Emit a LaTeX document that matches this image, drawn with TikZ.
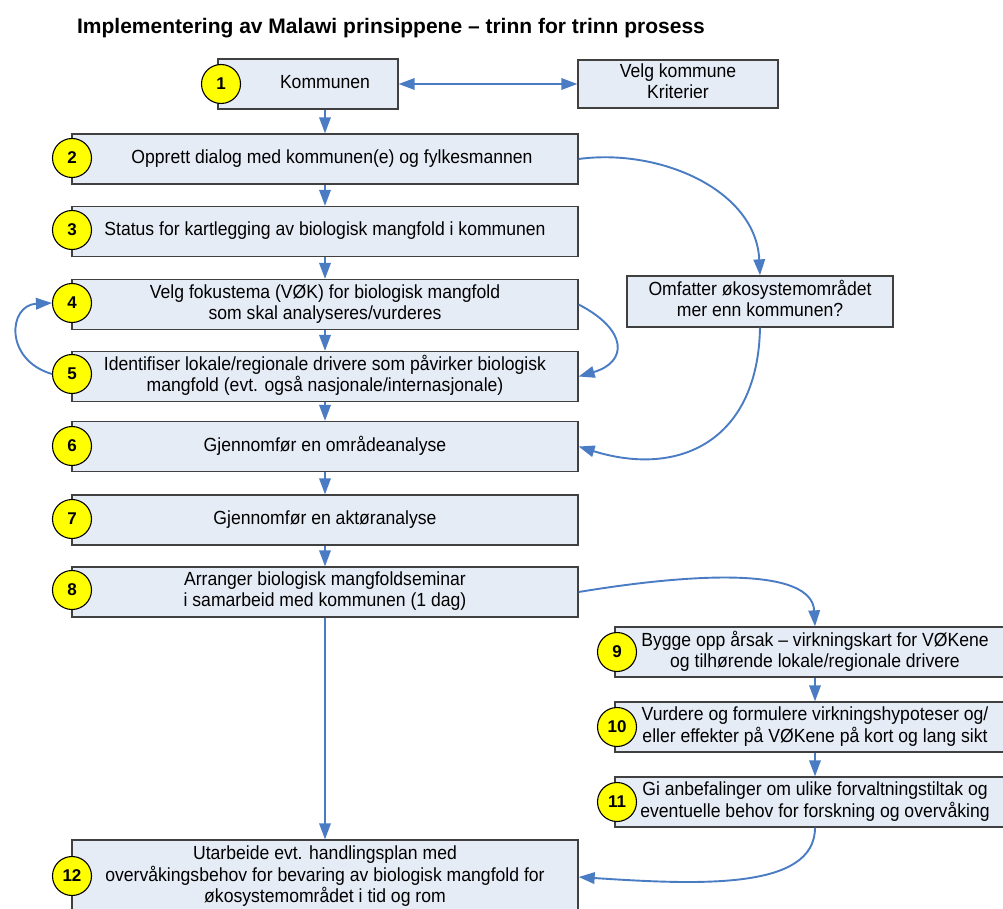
\documentclass[tikz,border=0pt]{standalone}
\usepackage{fontspec}
\setmainfont{Liberation Sans}
\usetikzlibrary{arrows.meta}
\definecolor{boxfill}{HTML}{E6ECF6}
\definecolor{boxline}{HTML}{404040}
\definecolor{flow}{HTML}{4A7CC4}
\definecolor{badge}{HTML}{FFFF00}
% box text, set slightly taller than wide
\newcommand\tallstack[1]{\raisebox{-1.5pt}{\scalebox{1}[1.08]{\begin{tabular}{@{}c@{}}#1\end{tabular}}}}
\begin{document}
\begin{tikzpicture}[x=1pt,y=-1pt,
  stepbox/.style={draw=boxline,fill=boxfill,line width=1.3pt,inner sep=0pt,
    align=center,font=\fontsize{17.6}{19.4}\selectfont},
  wide/.style={stepbox,minimum width=506pt,minimum height=50pt},
  side/.style={stepbox,minimum width=400pt,minimum height=50pt},
  num/.style={circle,draw=black,fill=badge,line width=1.1pt,minimum size=39pt,
    inner sep=0pt,font=\fontsize{17}{17}\selectfont\bfseries},
  tip/.tip={Triangle[length=16pt,width=11.5pt]},
  flowarrow/.style={draw=flow,line width=1.9pt,-tip}]
\useasboundingbox (0,0) rectangle (1003,909);
\fill[white] (0,0) rectangle (1003,909);

\node[font=\fontsize{21}{21}\selectfont\bfseries] (title) at (391,28)
  {Implementering av Malawi prinsippene -- trinn for trinn prosess};

% main column of steps
\node[stepbox,minimum width=180pt,minimum height=50pt] (b1) at (308,84) {\tallstack{\hspace*{34pt}Kommunen}};
\node[stepbox,minimum width=200pt,minimum height=48pt] (bk) at (678,84) {\tallstack{Velg kommune\\Kriterier}};
\node[wide] (b2) at (325,159) {\tallstack{\hspace*{14pt}Opprett dialog med kommunen(e) og fylkesmannen}};
\node[wide] (b3) at (325,231.5) {\tallstack{Status for kartlegging av biologisk mangfold i kommunen}};
\node[wide] (b4) at (325,304.5) {\tallstack{Velg fokustema (VØK) for biologisk mangfold\\som skal analyseres/vurderes}};
\node[wide] (b5) at (325,376.5) {\tallstack{Identifiser lokale/regionale drivere som påvirker biologisk\\mangfold (evt. også nasjonale/internasjonale)}};
\node[wide] (b6) at (325,446.5) {\tallstack{Gjennomfør en områdeanalyse}};
\node[wide] (b7) at (325,520) {\tallstack{Gjennomfør en aktøranalyse}};
\node[wide] (b8) at (325,592) {\tallstack{Arranger biologisk mangfoldseminar\\i samarbeid med kommunen (1 dag)}};
\node[wide,minimum height=74pt,font=\fontsize{17.6}{18.5}\selectfont] (b12) at (325,877)
  {\tallstack{Utarbeide evt. handlingsplan med\\overvåkingsbehov for bevaring av biologisk mangfold for\\økosystemområdet i tid og rom}};

% question and side branch
\node[stepbox,minimum width=266pt,minimum height=51pt] (bo) at (760,301.5) {\tallstack{Omfatter økosystemområdet\\mer enn kommunen?}};
\node[side] (b9) at (815,652) {\tallstack{Bygge opp årsak -- virkningskart for VØKene\\og tilhørende lokale/regionale drivere}};
\node[side] (b10) at (815,727) {\tallstack{Vurdere og formulere virkningshypoteser og/\\eller effekter på VØKene på kort og lang sikt}};
\node[side] (b11) at (815,802) {\tallstack{Gi anbefalinger om ulike forvaltningstiltak og\\eventuelle behov for forskning og overvåking}};

% numbered badges
\node[num] (c1) at (221,84) {1};
\node[num] (c2) at (72,158) {2};
\node[num] (c3) at (72,230) {3};
\node[num] (c4) at (72,303) {4};
\node[num] (c5) at (72,374) {5};
\node[num] (c6) at (72,446) {6};
\node[num] (c7) at (72,519) {7};
\node[num] (c8) at (72,590) {8};
\node[num] (c9) at (617,652) {9};
\node[num] (c10) at (617,727) {10};
\node[num] (c11) at (617,802) {11};
\node[num] (c12) at (72,876) {12};

% connectors
\draw[flowarrow,tip-tip] (b1.east) -- (bk.west);
\draw[flowarrow] (b1.south -| b2.north) -- (b2.north);
\draw[flowarrow] (b2.south) -- (b3.north);
\draw[flowarrow] (b3.south) -- (b4.north);
\draw[flowarrow] (b4.south) -- (b5.north);
\draw[flowarrow] (b5.south) -- (b6.north);
\draw[flowarrow] (b6.south) -- (b7.north);
\draw[flowarrow] (b7.south) -- (b8.north);
\draw[flowarrow] (b8.south) -- (b12.north);
\draw[flowarrow] (b9.south) -- (b10.north);
\draw[flowarrow] (b10.south) -- (b11.north);

\draw[flowarrow] (b2.east) .. controls (660,148) and (756,190) .. (bo.north);
\draw[flowarrow] (bo.south) .. controls (758,440) and (680,478) .. (b6.east);
\draw[flowarrow] (b4.east) .. controls (628,330) and (628,362) .. (b5.east);
\draw[flowarrow] (c5.west) .. controls (4,360) and (8,305) .. (c4.west);
\draw[flowarrow] (b8.east) .. controls (700,572) and (812,568) .. (b9.north);
\draw[flowarrow] (b11.south) .. controls (815,890) and (700,885) .. (b12.east);
\end{tikzpicture}
\end{document}
